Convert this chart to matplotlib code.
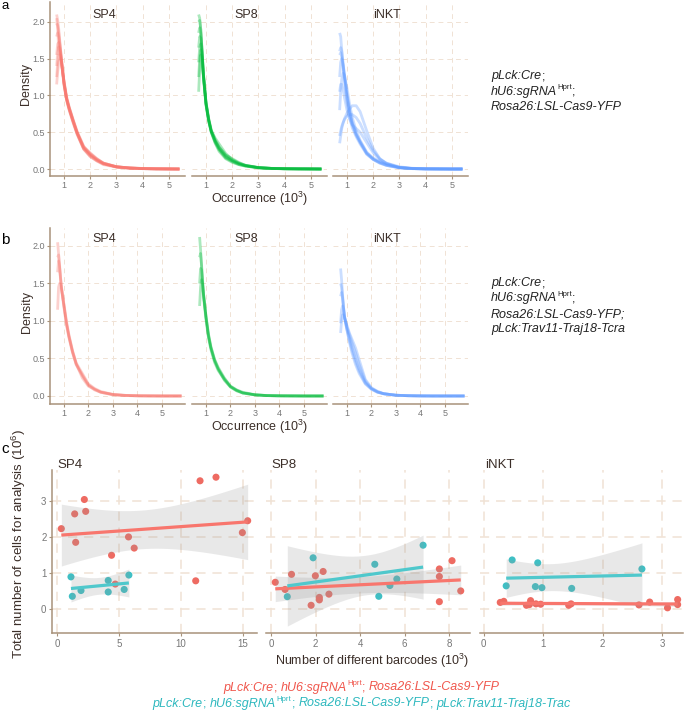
import numpy as np
import matplotlib
matplotlib.use("Agg")
import matplotlib.pyplot as plt

plt.rcParams['font.family'] = ['Liberation Sans', 'DejaVu Sans']
plt.rcParams['mathtext.fontset'] = 'custom'
plt.rcParams['mathtext.rm'] = 'Liberation Sans'
plt.rcParams['mathtext.it'] = 'Liberation Sans:italic'

# ---------------- data: density curves (panels a, b) ----------------
x_a = [0.72, 0.76, 0.80, 0.85, 0.90, 1.0, 1.1, 1.2, 1.35, 1.5, 1.75, 2.0, 2.25, 2.5, 3.0, 3.5, 4.0, 4.5, 5.0, 5.4]
x_b = [0.74, 0.78, 0.82, 0.86, 0.90, 1.0, 1.1, 1.2, 1.35, 1.5, 1.75, 2.0, 2.25, 2.5, 3.0, 3.5, 4.0, 4.5, 5.0, 5.8]

sp4_a = [
    [2.10, 2.02, 1.90, 1.70, 1.52, 1.17, 0.95, 0.81, 0.64, 0.48, 0.27, 0.17, 0.11, 0.07, 0.030, 0.014, 0.006, 0.003, 0.001, 0.0],
    [1.98, 1.95, 1.85, 1.68, 1.50, 1.15, 0.94, 0.80, 0.63, 0.48, 0.28, 0.18, 0.12, 0.07, 0.028, 0.012, 0.005, 0.002, 0.001, 0.0],
    [1.80, 1.85, 1.80, 1.66, 1.49, 1.16, 0.95, 0.82, 0.65, 0.49, 0.29, 0.20, 0.13, 0.08, 0.030, 0.013, 0.006, 0.002, 0.001, 0.0],
    [1.55, 1.70, 1.72, 1.62, 1.48, 1.18, 0.96, 0.83, 0.66, 0.50, 0.30, 0.21, 0.14, 0.08, 0.030, 0.015, 0.007, 0.003, 0.001, 0.0],
    [1.40, 1.58, 1.66, 1.60, 1.47, 1.17, 0.95, 0.82, 0.65, 0.49, 0.28, 0.19, 0.12, 0.07, 0.030, 0.012, 0.005, 0.002, 0.001, 0.0],
    [1.25, 1.45, 1.55, 1.55, 1.45, 1.19, 0.97, 0.83, 0.66, 0.50, 0.30, 0.22, 0.14, 0.08, 0.030, 0.014, 0.006, 0.003, 0.001, 0.0],
    [1.15, 1.32, 1.45, 1.50, 1.44, 1.20, 0.98, 0.84, 0.67, 0.51, 0.31, 0.20, 0.13, 0.08, 0.030, 0.015, 0.007, 0.003, 0.001, 0.0],
    [2.05, 1.90, 1.62, 1.55, 1.46, 1.14, 0.93, 0.80, 0.63, 0.47, 0.27, 0.17, 0.11, 0.06, 0.025, 0.010, 0.005, 0.002, 0.001, 0.0],
]
sp8_a = [
    [2.10, 2.05, 1.90, 1.60, 1.28, 0.88, 0.66, 0.50, 0.36, 0.26, 0.16, 0.11, 0.07, 0.045, 0.018, 0.008, 0.004, 0.002, 0.001, 0.0],
    [2.00, 2.02, 1.90, 1.62, 1.30, 0.90, 0.68, 0.52, 0.38, 0.28, 0.17, 0.11, 0.07, 0.045, 0.018, 0.008, 0.004, 0.002, 0.001, 0.0],
    [1.85, 1.92, 1.85, 1.60, 1.30, 0.91, 0.69, 0.53, 0.40, 0.30, 0.19, 0.12, 0.08, 0.050, 0.020, 0.008, 0.004, 0.002, 0.001, 0.0],
    [1.65, 1.80, 1.78, 1.58, 1.29, 0.90, 0.68, 0.52, 0.42, 0.34, 0.21, 0.13, 0.08, 0.050, 0.020, 0.009, 0.004, 0.002, 0.001, 0.0],
    [1.45, 1.65, 1.70, 1.56, 1.28, 0.89, 0.67, 0.51, 0.37, 0.27, 0.15, 0.10, 0.06, 0.040, 0.016, 0.007, 0.003, 0.002, 0.001, 0.0],
    [1.25, 1.50, 1.62, 1.53, 1.27, 0.88, 0.66, 0.50, 0.35, 0.24, 0.14, 0.09, 0.06, 0.040, 0.016, 0.007, 0.003, 0.002, 0.001, 0.0],
    [1.05, 1.35, 1.55, 1.50, 1.25, 0.87, 0.65, 0.51, 0.38, 0.29, 0.19, 0.14, 0.09, 0.050, 0.018, 0.008, 0.004, 0.002, 0.001, 0.0],
]
inkt_a = [
    [1.85, 1.80, 1.62, 1.40, 1.20, 0.90, 0.70, 0.56, 0.44, 0.34, 0.20, 0.13, 0.08, 0.05, 0.015, 0.005, 0.002, 0.001, 0.0, 0.0],
    [1.55, 1.58, 1.52, 1.40, 1.25, 0.98, 0.76, 0.60, 0.46, 0.36, 0.21, 0.13, 0.08, 0.05, 0.020, 0.006, 0.002, 0.001, 0.0, 0.0],
    [1.25, 1.45, 1.50, 1.42, 1.30, 1.02, 0.80, 0.64, 0.48, 0.37, 0.21, 0.13, 0.09, 0.06, 0.020, 0.006, 0.002, 0.001, 0.0, 0.0],
    [1.60, 1.65, 1.60, 1.45, 1.28, 1.00, 0.78, 0.62, 0.47, 0.37, 0.22, 0.15, 0.10, 0.07, 0.020, 0.007, 0.002, 0.001, 0.0, 0.0],
    [0.80, 1.05, 1.22, 1.30, 1.28, 1.10, 0.88, 0.70, 0.52, 0.39, 0.23, 0.14, 0.09, 0.05, 0.015, 0.005, 0.002, 0.001, 0.0, 0.0],
    [0.35, 0.45, 0.55, 0.62, 0.68, 0.76, 0.82, 0.86, 0.86, 0.78, 0.52, 0.28, 0.14, 0.07, 0.020, 0.006, 0.002, 0.001, 0.0, 0.0],
    [0.45, 0.52, 0.58, 0.63, 0.67, 0.72, 0.74, 0.74, 0.70, 0.62, 0.42, 0.25, 0.14, 0.08, 0.030, 0.010, 0.003, 0.001, 0.0, 0.0],
    [1.05, 1.15, 1.15, 1.08, 0.98, 0.80, 0.68, 0.60, 0.55, 0.50, 0.36, 0.22, 0.13, 0.08, 0.020, 0.006, 0.002, 0.001, 0.0, 0.0],
]
sp4_b = [
    [2.05, 1.90, 1.72, 1.55, 1.42, 1.18, 0.95, 0.78, 0.58, 0.42, 0.27, 0.15, 0.09, 0.05, 0.020, 0.008, 0.003, 0.001, 0.0, 0.0],
    [1.85, 1.88, 1.75, 1.58, 1.44, 1.20, 0.97, 0.80, 0.60, 0.44, 0.30, 0.16, 0.10, 0.06, 0.020, 0.008, 0.003, 0.001, 0.0, 0.0],
    [1.65, 1.80, 1.72, 1.58, 1.45, 1.21, 0.98, 0.80, 0.58, 0.42, 0.28, 0.14, 0.08, 0.05, 0.015, 0.006, 0.002, 0.001, 0.0, 0.0],
    [1.15, 1.45, 1.50, 1.48, 1.42, 1.22, 1.00, 0.82, 0.60, 0.43, 0.24, 0.13, 0.09, 0.05, 0.020, 0.007, 0.002, 0.001, 0.0, 0.0],
]
sp8_b = [
    [2.12, 1.95, 1.72, 1.50, 1.32, 1.02, 0.78, 0.62, 0.45, 0.34, 0.22, 0.12, 0.07, 0.04, 0.015, 0.005, 0.002, 0.001, 0.0, 0.0],
    [1.85, 1.90, 1.75, 1.55, 1.36, 1.05, 0.80, 0.64, 0.47, 0.36, 0.23, 0.13, 0.08, 0.05, 0.016, 0.006, 0.002, 0.001, 0.0, 0.0],
    [1.50, 1.70, 1.68, 1.52, 1.36, 1.06, 0.82, 0.65, 0.48, 0.36, 0.21, 0.12, 0.07, 0.04, 0.015, 0.005, 0.002, 0.001, 0.0, 0.0],
    [1.20, 1.45, 1.55, 1.48, 1.35, 1.07, 0.83, 0.66, 0.49, 0.38, 0.24, 0.13, 0.08, 0.04, 0.015, 0.005, 0.002, 0.001, 0.0, 0.0],
]
inkt_b = [
    [1.70, 1.55, 1.35, 1.18, 1.05, 0.88, 0.72, 0.58, 0.42, 0.30, 0.16, 0.09, 0.05, 0.03, 0.010, 0.004, 0.001, 0.0, 0.0, 0.0],
    [1.33, 1.38, 1.30, 1.18, 1.06, 0.90, 0.78, 0.66, 0.50, 0.36, 0.18, 0.10, 0.06, 0.03, 0.010, 0.004, 0.001, 0.0, 0.0, 0.0],
    [0.97, 1.15, 1.20, 1.15, 1.06, 0.92, 0.82, 0.72, 0.58, 0.42, 0.20, 0.10, 0.05, 0.03, 0.010, 0.003, 0.001, 0.0, 0.0, 0.0],
    [0.84, 1.00, 1.08, 1.08, 1.04, 0.94, 0.84, 0.76, 0.64, 0.48, 0.22, 0.11, 0.06, 0.03, 0.010, 0.003, 0.001, 0.0, 0.0, 0.0],
    [1.50, 1.45, 1.32, 1.18, 1.05, 0.88, 0.74, 0.62, 0.46, 0.33, 0.17, 0.09, 0.05, 0.03, 0.010, 0.004, 0.001, 0.0, 0.0, 0.0],
]

# ---------------- data: barcodes vs cell numbers (panel c) ----------------
# red = Cas9 only, teal = Cas9 + Trav11-Traj18 TCR
sp4_red_x = [0.32, 1.40, 2.18, 2.29, 1.48, 4.38, 5.75, 6.21, 4.68, 11.18, 11.53, 12.82, 14.95, 15.38]
sp4_red_y = [2.23, 2.64, 3.04, 2.71, 1.85, 1.49, 2.00, 1.69, 0.69, 0.78, 3.56, 3.66, 2.12, 2.45]
sp4_teal_x = [1.10, 1.21, 1.91, 4.11, 4.11, 5.40, 5.78]
sp4_teal_y = [0.89, 0.35, 0.51, 0.79, 0.47, 0.54, 0.94]

sp8_red_x = [0.19, 0.63, 0.92, 1.99, 2.34, 1.80, 2.17, 2.17, 2.60, 7.56, 7.56, 7.56, 8.13, 8.52]
sp8_red_y = [0.74, 0.54, 0.96, 0.92, 1.04, 0.10, 0.32, 0.25, 0.41, 1.11, 0.90, 0.20, 1.34, 0.50]
sp8_teal_x = [0.73, 1.89, 4.66, 4.84, 5.34, 5.65, 6.83]
sp8_teal_y = [0.34, 1.42, 1.24, 0.35, 0.65, 0.83, 1.77]

inkt_red_x = [0.28, 0.34, 0.72, 0.79, 0.77, 0.88, 0.96, 1.43, 1.47, 2.61, 2.79, 3.09, 3.26, 3.26]
inkt_red_y = [0.18, 0.21, 0.10, 0.23, 0.12, 0.14, 0.13, 0.10, 0.14, 0.11, 0.19, 0.03, 0.26, 0.12]
inkt_teal_x = [0.38, 0.48, 0.91, 0.87, 0.98, 1.48, 2.66]
inkt_teal_y = [0.64, 1.36, 1.28, 0.62, 0.59, 0.57, 1.11]

# t(0.975, df) for 95% confidence bands
T975 = {5: 2.571, 12: 2.179}

# ---------------- styling ----------------
RED, GREEN, BLUE = '#F8766D', '#00BA38', '#619CFF'
RED_PT, TEAL_PT, TEAL_LN = '#EE6B62', '#3FBFC4', '#4FC8CC'
SPINE = '#A8927A'
GRID = '#F0E2D4'
TICKC = '#777777'
TEXTC = '#3B2E28'

W, H = 685, 710
fig = plt.figure(figsize=(W / 100, H / 100), dpi=100)


def fx(px):
    return px / W


def fy(py):
    return 1 - py / H


def add_ax(x0, y0, x1, y1):
    return fig.add_axes([fx(x0), fy(y1), (x1 - x0) / W, (y1 - y0) / H])


def style(ax, left, dash, glw, fs, pad):
    for s in ['top', 'right']:
        ax.spines[s].set_visible(False)
    ax.spines['bottom'].set_color(SPINE)
    ax.spines['bottom'].set_linewidth(1.1)
    if left:
        ax.spines['left'].set_color(SPINE)
        ax.spines['left'].set_linewidth(1.1)
    else:
        ax.spines['left'].set_visible(False)
        ax.tick_params(axis='y', left=False, labelleft=False)
    ax.grid(True, color=GRID, linestyle=(0, dash), linewidth=glw)
    ax.set_axisbelow(True)
    ax.tick_params(colors=SPINE, labelcolor=TICKC, labelsize=fs, length=2.5, width=0.8, pad=pad)
    ax.set_facecolor('none')


def rich_line(x, y, runs, color, size, center=False):
    renderer = fig.canvas.get_renderer()
    items = []
    cur = 0.0
    for txt, kind in runs:
        if kind == 'gap':
            cur += txt
            continue
        fs = size * 0.62 if kind == 'sup' else size
        st = 'italic' if kind == 'it' else 'normal'
        rise = size * 0.45 * 100 / 72 if kind == 'sup' else 0
        t = fig.text(0, 0, txt, fontsize=fs, style=st, color=color, va='baseline', ha='left')
        w = t.get_window_extent(renderer).width
        items.append((t, cur, rise))
        cur += w + (0.4 if kind == 'it' else 0)
    x0 = x - cur / 2 if center else x
    for t, off, rise in items:
        t.set_position((fx(x0 + off), fy(y - rise)))


# ---------------- panels a and b ----------------
cols = [(50, 185), (192, 327), (333, 468)]
names = ['SP4', 'SP8', 'iNKT']
rows = [
    dict(top=2, bottom=176, ylim=(-0.095, 2.27), xlim=(0.467, 5.61), xs=x_a,
         curves=[sp4_a, sp8_a, inkt_a], title_y=18, lab_y=203),
    dict(top=228, bottom=404, ylim=(-0.107, 2.24), xlim=(0.43, 5.94), xs=x_b,
         curves=[sp4_b, sp8_b, inkt_b], title_y=242.5, lab_y=430.5),
]
colors = [RED, GREEN, BLUE]

for r in rows:
    for i, (x0, x1) in enumerate(cols):
        ax = add_ax(x0, r['top'], x1, r['bottom'])
        for cv in r['curves'][i]:
            ax.plot(r['xs'], cv, color=colors[i], alpha=0.33, lw=2.0, solid_capstyle='butt')
        ax.set_xlim(*r['xlim'])
        ax.set_ylim(*r['ylim'])
        ax.set_xticks([1, 2, 3, 4, 5])
        ax.set_yticks([0.0, 0.5, 1.0, 1.5, 2.0])
        ax.set_yticklabels(['0.0', '0.5', '1.0', '1.5', '2.0'])
        style(ax, i == 0, (5, 4), 0.7, 6.5, 1.0)
        fig.text(fx(x0 + 0.40 * (x1 - x0)), fy(r['title_y']), names[i], fontsize=9,
                 color=TEXTC, ha='center', va='baseline')
    fig.text(fx(259.5), fy(r['lab_y']), 'Occurrence (10$^{3}$)', fontsize=9, color=TEXTC,
             ha='center', va='baseline')

fig.text(fx(26), fy(84), 'Density', fontsize=9, color=TEXTC, rotation=90, ha='center', va='center')
fig.text(fx(27), fy(312), 'Density', fontsize=9, color=TEXTC, rotation=90, ha='center', va='center')

fig.text(fx(1), fy(0), 'a', fontsize=9.5, color='black', ha='left', va='top')
fig.text(fx(1), fy(244), 'b', fontsize=11, color='black', ha='left', va='baseline')
fig.text(fx(1), fy(453), 'c', fontsize=11, color='black', ha='left', va='baseline')

# genotype notes
rich_line(491, 79.5, [('pLck:Cre', 'it'), (';', 'rm')], '#222222', 9)
rich_line(491, 95, [('hU6:sgRNA', 'it'), ('Hprt', 'sup'), (';', 'rm')], '#222222', 9)
rich_line(491, 110.5, [('Rosa26:LSL-Cas9-YFP', 'it')], '#222222', 9)

rich_line(491, 286, [('pLck:Cre', 'it'), (';', 'rm')], '#222222', 9)
rich_line(491, 301.5, [('hU6:sgRNA', 'it'), ('Hprt', 'sup'), (';', 'rm')], '#222222', 9)
rich_line(491, 317, [('Rosa26:LSL-Cas9-YFP;', 'it')], '#222222', 9)
rich_line(491, 332.5, [('pLck:Trav11-Traj18-Tcra', 'it')], '#222222', 9)


# ---------------- panel c ----------------
def lm_band(x, y):
    x = np.asarray(x, float)
    y = np.asarray(y, float)
    n = len(x)
    b, a = np.polyfit(x, y, 1)
    xs = np.linspace(x.min(), x.max(), 80)
    fit = a + b * xs
    s = np.sqrt(np.sum((y - (a + b * x)) ** 2) / (n - 2))
    sxx = np.sum((x - x.mean()) ** 2)
    se = s * np.sqrt(1 / n + (xs - x.mean()) ** 2 / sxx)
    t = T975[n - 2]
    return xs, fit, fit - t * se, fit + t * se


c_cols = [(52, 257), (266, 470), (480, 683)]
c_data = [
    (sp4_red_x, sp4_red_y, sp4_teal_x, sp4_teal_y, [0, 5, 10, 15], None),
    (sp8_red_x, sp8_red_y, sp8_teal_x, sp8_teal_y, [0, 2, 4, 6, 8], None),
    (inkt_red_x, inkt_red_y, inkt_teal_x, inkt_teal_y, [0, 1, 2, 3], (-0.06, 3.35)),
]

for i, (x0, x1) in enumerate(c_cols):
    ax = add_ax(x0, 470, x1, 633)
    rx, ry, tx, ty, ticks, xl = c_data[i]
    ax.scatter(rx, ry, s=26, color=RED_PT, edgecolors='none', zorder=3)
    ax.scatter(tx, ty, s=26, color=TEAL_PT, edgecolors='none', zorder=3)
    for gx, gy, lc in [(rx, ry, RED), (tx, ty, TEAL_LN)]:
        xs, fit, lo, hi = lm_band(gx, gy)
        ax.fill_between(xs, lo, hi, color='#999999', alpha=0.22, lw=0, zorder=4)
        ax.plot(xs, fit, color=lc, lw=2.3, zorder=5, solid_capstyle='butt')
    ax.margins(x=0.05)
    if xl is not None:
        ax.set_xlim(*xl)
    ax.set_ylim(-0.67, 3.86)
    ax.set_xticks(ticks)
    ax.set_yticks([0, 1, 2, 3])
    style(ax, i == 0, (6, 4.5), 1.1, 7, 1.5)
    fig.text(fx(x0 + 5), fy(468.5), names[i], fontsize=9.5, color=TEXTC, ha='left', va='baseline')

fig.text(fx(372), fy(661), 'Number of different barcodes (10$^{3}$)', fontsize=9, color=TEXTC,
         ha='center', va='center')
fig.text(fx(19), fy(544), 'Total number of cells for analysis (10$^{6}$)', fontsize=9.6, color=TEXTC,
         rotation=90, ha='center', va='center')

rich_line(362, 690.5, [('pLck:Cre', 'it'), (';', 'rm'), (3.5, 'gap'), ('hU6:sgRNA', 'it'), ('Hprt', 'sup'),
                       (';', 'rm'), (3.5, 'gap'), ('Rosa26:LSL-Cas9-YFP', 'it')], '#F0564C', 9, center=True)
rich_line(362, 706.5, [('pLck:Cre', 'it'), (';', 'rm'), (3.5, 'gap'), ('hU6:sgRNA', 'it'), ('Hprt', 'sup'),
                       (';', 'rm'), (3.5, 'gap'), ('Rosa26:LSL-Cas9-YFP', 'it'), (';', 'rm'), (3.5, 'gap'),
                       ('pLck:Trav11-Traj18-Trac', 'it')], '#2DB8BE', 9, center=True)

fig.savefig('out.png', dpi=100)
